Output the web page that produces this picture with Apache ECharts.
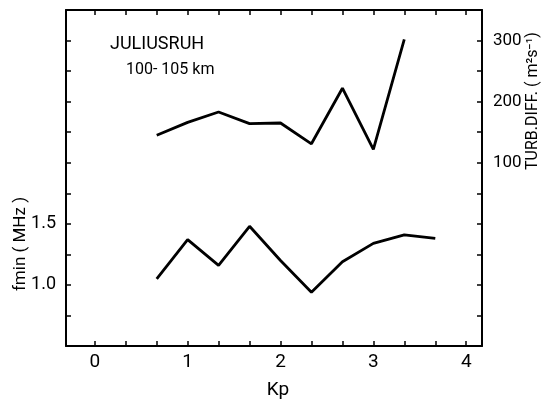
<!DOCTYPE html>
<html>
<head>
<meta charset="utf-8">
<script src="https://cdn.jsdelivr.net/npm/echarts@6/dist/echarts.min.js"></script>
<style>html,body{margin:0;padding:0;background:#fff}#c{width:546px;height:400px}</style>
</head>
<body>
<div id="c"></div>
<script>
// Data
const kpTurb = [0.667, 1.0, 1.333, 1.667, 2.0, 2.333, 2.667, 3.0, 3.333];
const turbDiff = [145, 166, 183, 164, 165, 131, 222, 122, 302];
const kpFmin = [0.667, 1.0, 1.333, 1.667, 2.0, 2.333, 2.667, 3.0, 3.333, 3.667];
const fmin = [1.05, 1.37, 1.16, 1.48, 1.20, 0.94, 1.19, 1.34, 1.41, 1.38];
const kpTicks = [0, 0.3333, 0.6667, 1, 1.3333, 1.6667, 2, 2.3333, 2.6667, 3, 3.3333, 3.6667, 4];
const kpLabels = [0, 1, 2, 3, 4];
const fminLabels = [1.0, 1.5];
const turbLabels = [100, 200, 300];

const FONT = 'Roboto, "DejaVu Sans", sans-serif';
const chart = echarts.init(document.getElementById('c'), null, {renderer: 'canvas'});
const axisLine = {show: true, onZero: false, lineStyle: {color: '#000', width: 2}};
const tick = {show: true, inside: true, length: 5, lineStyle: {color: '#000', width: 1.5}};

chart.setOption({
  animation: false,
  backgroundColor: '#fff',
  grid: {left: 66, right: 64, top: 10, bottom: 54, containLabel: false},
  xAxis: [
    {
      type: 'value', position: 'bottom', min: -0.31, max: 4.17,
      axisLine: axisLine, splitLine: {show: false},
      axisTick: Object.assign({}, tick, {customValues: kpTicks}),
      axisLabel: {customValues: kpLabels, color: '#000', fontSize: 19, fontFamily: FONT, margin: 7,
        formatter: v => String(Math.round(v))}
    },
    {
      type: 'value', position: 'top', min: -0.31, max: 4.17,
      axisLine: axisLine, splitLine: {show: false},
      axisTick: Object.assign({}, tick, {customValues: kpTicks}),
      axisLabel: {show: false}
    }
  ],
  yAxis: [
    {
      type: 'value', position: 'left', min: 0.5, max: 3.25, interval: 0.25,
      axisLine: axisLine, splitLine: {show: false}, axisTick: tick,
      axisLabel: {customValues: fminLabels, color: '#000', fontSize: 18, fontFamily: FONT, margin: 10,
        formatter: v => v.toFixed(1)}
    },
    {
      type: 'value', position: 'right', min: -200, max: 350, interval: 50,
      axisLine: axisLine, splitLine: {show: false}, axisTick: tick,
      axisLabel: {customValues: turbLabels, color: '#000', fontSize: 17, fontFamily: FONT, margin: 11,
        formatter: v => String(v)}
    }
  ],
  series: [
    {
      type: 'line', xAxisIndex: 0, yAxisIndex: 1, symbol: 'none',
      lineStyle: {color: '#000', width: 2.8}, silent: true,
      data: kpTurb.map((k, i) => [k, turbDiff[i]])
    },
    {
      type: 'line', xAxisIndex: 0, yAxisIndex: 0, symbol: 'none',
      lineStyle: {color: '#000', width: 2.8}, silent: true,
      data: kpFmin.map((k, i) => [k, fmin[i]])
    }
  ],
  graphic: [
    {type: 'text', left: 110, top: 35, style: {text: 'JULIUSRUH', font: '18px ' + FONT, fill: '#000'}},
    {type: 'text', left: 126, top: 62, style: {text: '100- 105 km', font: '16px ' + FONT, fill: '#000'}},
    {type: 'text', x: 278, y: 390, style: {text: 'Kp', font: '19px ' + FONT, fill: '#000', align: 'center', verticalAlign: 'middle'}},
    {type: 'text', x: 21, y: 244, rotation: Math.PI / 2, style: {text: 'fmin ( MHz )', font: '17px ' + FONT, fill: '#000', align: 'center', verticalAlign: 'middle'}},
    {type: 'text', x: 533, y: 101, rotation: Math.PI / 2, style: {text: 'TURB.DIFF. ( m²s⁻¹)', font: '16px ' + FONT, fill: '#000', align: 'center', verticalAlign: 'middle'}}
  ]
});
</script>
</body>
</html>
